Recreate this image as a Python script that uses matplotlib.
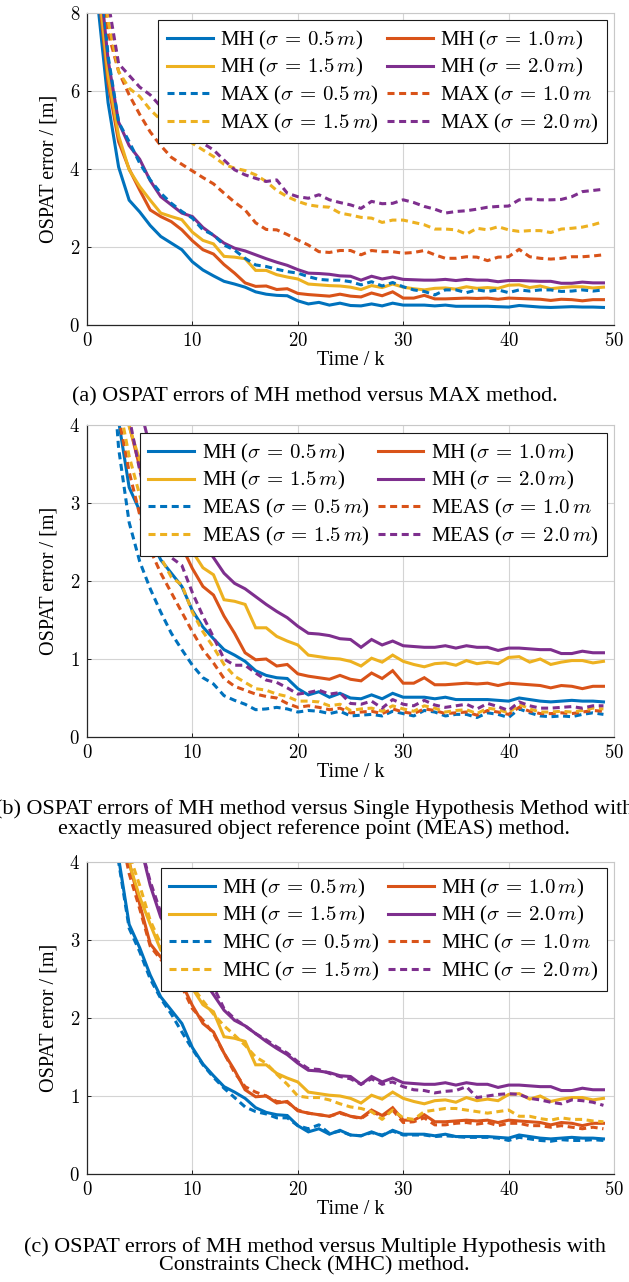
import matplotlib
matplotlib.use("Agg")
import matplotlib.pyplot as plt
from matplotlib.ticker import FuncFormatter, MultipleLocator

plt.rcParams['font.family'] = ['Liberation Serif', 'DejaVu Serif']
plt.rcParams['mathtext.fontset'] = 'cm'

k = list(range(1, 50))

mh_05 = [8.3, 5.7, 4.05, 3.2, 2.9, 2.55, 2.27, 2.1, 1.93, 1.62, 1.41, 1.26, 1.12, 1.05, 0.97, 0.85, 0.79, 0.76, 0.75, 0.62,
         0.54, 0.58, 0.51, 0.56, 0.50, 0.49, 0.54, 0.49, 0.56, 0.51, 0.51, 0.51, 0.49, 0.51, 0.48, 0.48, 0.48, 0.48, 0.47, 0.46,
         0.50, 0.48, 0.46, 0.45, 0.46, 0.47, 0.46, 0.46, 0.45]
mh_10 = [8.8, 6.2, 4.7, 4.0, 3.46, 2.95, 2.78, 2.65, 2.44, 2.16, 1.93, 1.82, 1.55, 1.33, 1.08, 0.99, 1.0, 0.91, 0.93, 0.81,
         0.78, 0.76, 0.74, 0.79, 0.74, 0.72, 0.82, 0.75, 0.85, 0.69, 0.69, 0.76, 0.67, 0.67, 0.68, 0.69, 0.68, 0.69, 0.66, 0.69,
         0.68, 0.67, 0.66, 0.63, 0.66, 0.65, 0.62, 0.65, 0.65]
mh_15 = [9.0, 6.4, 4.85, 3.98, 3.55, 3.2, 2.87, 2.78, 2.7, 2.38, 2.17, 2.08, 1.76, 1.74, 1.70, 1.40, 1.40, 1.29, 1.23, 1.18,
         1.05, 1.03, 1.01, 1.0, 0.97, 0.91, 1.01, 0.96, 1.05, 0.97, 0.93, 0.90, 0.94, 0.95, 0.92, 0.98, 0.94, 0.96, 0.94, 1.02,
         1.03, 0.96, 1.0, 0.93, 0.96, 0.98, 0.98, 0.95, 0.97]
mh_20 = [9.5, 6.8, 5.2, 4.6, 4.25, 3.7, 3.29, 3.08, 2.87, 2.78, 2.5, 2.3, 2.1, 1.97, 1.90, 1.80, 1.70, 1.61, 1.53, 1.42,
         1.33, 1.32, 1.30, 1.26, 1.25, 1.15, 1.25, 1.18, 1.23, 1.17, 1.16, 1.15, 1.15, 1.17, 1.14, 1.17, 1.15, 1.15, 1.11, 1.14,
         1.14, 1.13, 1.12, 1.12, 1.07, 1.07, 1.10, 1.08, 1.08]

max_05 = [10.0, 6.9, 5.2, 4.7, 4.15, 3.72, 3.38, 3.12, 2.91, 2.74, 2.44, 2.31, 2.05, 1.92, 1.71, 1.54, 1.50, 1.43, 1.37, 1.33,
          1.24, 1.17, 1.15, 1.15, 1.11, 1.03, 1.11, 1.0, 1.09, 0.98, 0.90, 0.86, 0.77, 0.90, 0.90, 0.83, 0.90, 0.86, 0.90, 0.83,
          0.90, 0.87, 0.90, 0.90, 0.86, 0.87, 0.90, 0.87, 0.90]
max_10 = [10.5, 7.5, 6.5, 5.9, 5.4, 4.95, 4.6, 4.3, 4.12, 3.95, 3.78, 3.62, 3.38, 3.15, 2.95, 2.62, 2.45, 2.44, 2.32, 2.18,
          2.05, 1.88, 1.86, 1.91, 1.91, 1.80, 1.91, 1.88, 1.88, 1.84, 1.86, 1.91, 1.80, 1.71, 1.71, 1.75, 1.74, 1.65, 1.74, 1.75,
          1.94, 1.75, 1.71, 1.69, 1.71, 1.75, 1.75, 1.77, 1.80]
max_15 = [11.0, 7.8, 6.5, 6.07, 5.86, 5.52, 5.26, 5.0, 4.83, 4.66, 4.49, 4.32, 4.12, 4.02, 3.96, 3.85, 3.68, 3.45, 3.29, 3.17,
          3.08, 3.04, 3.02, 2.87, 2.82, 2.76, 2.74, 2.63, 2.69, 2.69, 2.63, 2.57, 2.46, 2.46, 2.44, 2.33, 2.48, 2.44, 2.52, 2.44,
          2.40, 2.42, 2.42, 2.37, 2.46, 2.48, 2.51, 2.57, 2.65]
max_20 = [12.0, 8.3, 6.7, 6.4, 6.1, 5.9, 5.6, 5.35, 5.0, 4.83, 4.66, 4.49, 4.23, 3.98, 3.85, 3.76, 3.68, 3.72, 3.38, 3.29,
          3.25, 3.34, 3.21, 3.14, 3.08, 2.99, 3.17, 3.11, 3.12, 3.21, 3.14, 3.04, 2.97, 2.87, 2.91, 2.93, 2.97, 3.02, 3.04, 3.05,
          3.21, 3.23, 3.21, 3.21, 3.22, 3.29, 3.42, 3.45, 3.48]

meas_05 = [9.0, 5.5, 3.7, 2.75, 2.25, 1.9, 1.6, 1.33, 1.12, 0.92, 0.76, 0.68, 0.53, 0.47, 0.42, 0.35, 0.36, 0.38, 0.36, 0.32,
           0.34, 0.33, 0.30, 0.33, 0.27, 0.28, 0.29, 0.27, 0.33, 0.30, 0.27, 0.34, 0.32, 0.27, 0.29, 0.29, 0.25, 0.31, 0.29, 0.25,
           0.36, 0.31, 0.27, 0.26, 0.27, 0.26, 0.29, 0.31, 0.29]
meas_10 = [9.5, 6.0, 4.1, 3.4, 2.85, 2.4, 2.1, 1.85, 1.6, 1.35, 1.12, 0.95, 0.75, 0.65, 0.60, 0.55, 0.52, 0.50, 0.43, 0.38,
           0.40, 0.38, 0.35, 0.37, 0.31, 0.32, 0.33, 0.30, 0.36, 0.32, 0.30, 0.36, 0.34, 0.30, 0.31, 0.32, 0.28, 0.34, 0.32, 0.29,
           0.38, 0.33, 0.30, 0.30, 0.31, 0.30, 0.32, 0.34, 0.33]
meas_15 = [10.0, 6.3, 4.3, 3.6, 3.1, 2.65, 2.3, 2.05, 1.95, 1.6, 1.35, 1.15, 0.93, 0.78, 0.70, 0.62, 0.60, 0.55, 0.52, 0.46,
           0.46, 0.45, 0.40, 0.42, 0.34, 0.36, 0.37, 0.33, 0.40, 0.36, 0.33, 0.40, 0.37, 0.32, 0.34, 0.35, 0.30, 0.37, 0.35, 0.31,
           0.42, 0.36, 0.32, 0.32, 0.33, 0.32, 0.34, 0.37, 0.36]
meas_20 = [11.0, 7.0, 5.0, 4.1, 3.42, 2.85, 2.45, 2.3, 2.2, 1.85, 1.55, 1.28, 1.0, 0.92, 0.92, 0.82, 0.73, 0.70, 0.63, 0.55,
           0.57, 0.60, 0.55, 0.57, 0.43, 0.42, 0.46, 0.37, 0.48, 0.42, 0.40, 0.47, 0.41, 0.38, 0.40, 0.42, 0.36, 0.43, 0.39, 0.34,
           0.45, 0.40, 0.37, 0.37, 0.38, 0.39, 0.37, 0.40, 0.40]

mhc_05 = [8.2, 5.6, 4.0, 3.15, 2.85, 2.5, 2.25, 2.05, 1.82, 1.6, 1.4, 1.24, 1.1, 0.98, 0.86, 0.8, 0.77, 0.72, 0.72, 0.62,
          0.58, 0.63, 0.52, 0.55, 0.5, 0.49, 0.53, 0.5, 0.55, 0.5, 0.5, 0.5, 0.48, 0.49, 0.48, 0.47, 0.47, 0.47, 0.46, 0.43,
          0.47, 0.45, 0.43, 0.42, 0.44, 0.43, 0.43, 0.44, 0.43]
mhc_10 = [8.6, 6.0, 4.5, 3.85, 3.4, 2.92, 2.75, 2.6, 2.4, 2.12, 1.97, 1.8, 1.55, 1.3, 1.12, 1.05, 1.0, 0.93, 0.92, 0.82,
          0.78, 0.76, 0.74, 0.78, 0.74, 0.71, 0.8, 0.74, 0.82, 0.66, 0.67, 0.72, 0.63, 0.63, 0.65, 0.66, 0.64, 0.66, 0.62, 0.65,
          0.65, 0.62, 0.62, 0.6, 0.62, 0.6, 0.58, 0.6, 0.58]
mhc_15 = [9.1, 6.6, 5.0, 4.1, 3.7, 3.25, 2.95, 2.7, 2.55, 2.4, 2.22, 2.05, 1.9, 1.78, 1.65, 1.5, 1.42, 1.28, 1.15, 1.0,
          0.98, 0.98, 0.95, 0.9, 0.86, 0.84, 0.8, 0.7, 0.82, 0.72, 0.7, 0.8, 0.82, 0.84, 0.84, 0.82, 0.8, 0.78, 0.8, 0.82,
          0.74, 0.74, 0.71, 0.69, 0.72, 0.7, 0.7, 0.68, 0.67]
mhc_20 = [9.6, 7.0, 5.3, 4.6, 4.25, 3.75, 3.35, 3.1, 2.9, 2.8, 2.55, 2.4, 2.12, 1.99, 1.9, 1.8, 1.72, 1.63, 1.55, 1.44,
          1.35, 1.34, 1.29, 1.25, 1.22, 1.15, 1.22, 1.15, 1.18, 1.12, 1.08, 1.07, 1.04, 1.06, 1.07, 1.12, 0.98, 1.0, 1.02, 1.03,
          1.02, 0.97, 0.95, 0.92, 0.9, 0.95, 0.94, 0.92, 0.88]

sigmas = ['0.5', '1.0', '1.5', '2.0']
colors = ['#0072BD', '#D95319', '#EDB120', '#7E2F8E']
mh_all = [mh_05, mh_10, mh_15, mh_20]

panels = [
    dict(name='MAX', data=[max_05, max_10, max_15, max_20], ymax=8, ystep=2,
         caption='(a) OSPAT errors of MH method versus MAX method.'),
    dict(name='MEAS', data=[meas_05, meas_10, meas_15, meas_20], ymax=4, ystep=1,
         caption='(b) OSPAT errors of MH method versus Single Hypothesis Method with\nexactly measured object reference point (MEAS) method.'),
    dict(name='MHC', data=[mhc_05, mhc_10, mhc_15, mhc_20], ymax=4, ystep=1,
         caption='(c) OSPAT errors of MH method versus Multiple Hypothesis with\nConstraints Check (MHC) method.'),
]

W, H = 629, 1282
fig = plt.figure(figsize=(W / 100, H / 100), dpi=100)

ax_left, ax_right = 87, 614
ax_tops = [13, 425, 862]
ax_h = 312
leg_tops = [20, 433, 868]
cap_y = [397, 819, 1256]

math_fmt = FuncFormatter(lambda v, p: r'$%g$' % v)

for i, pnl in enumerate(panels):
    top = ax_tops[i]
    ax = fig.add_axes([ax_left / W, 1 - (top + ax_h) / H, (ax_right - ax_left) / W, ax_h / H])
    ax.set_xlim(0, 50)
    ax.set_ylim(0, pnl['ymax'])
    ax.xaxis.set_major_locator(MultipleLocator(10))
    ax.yaxis.set_major_locator(MultipleLocator(pnl['ystep']))
    ax.xaxis.set_major_formatter(math_fmt)
    ax.yaxis.set_major_formatter(math_fmt)
    ax.grid(True, color='#d4d4d4', linewidth=0.8)
    ax.set_axisbelow(True)
    ax.tick_params(direction='in', length=3, width=0.6, labelsize=13.5, pad=5,
                   top=False, right=False)
    for s in ['top', 'right']:
        ax.spines[s].set_color('#c8c8c8')
        ax.spines[s].set_linewidth(0.8)
    for s in ['left', 'bottom']:
        ax.spines[s].set_color('#262626')
        ax.spines[s].set_linewidth(0.9)

    handles = {}
    for j in range(4):
        h, = ax.plot(k, mh_all[j], color=colors[j], lw=2.2, solid_joinstyle='miter',
                     label=r'MH ($\sigma\,=\,%s\,m$)' % sigmas[j])
        handles[('MH', j)] = h
    for j in range(4):
        close = ')' if j != 1 else ''
        h, = ax.plot(k, pnl['data'][j], color=colors[j], lw=2.2, dashes=(2.3, 1.5),
                     label=r'%s ($\sigma\,=\,%s\,m$' % (pnl['name'], sigmas[j]) + close)
        handles[('D', j)] = h

    order = [('MH', 0), ('MH', 2), ('D', 0), ('D', 2), ('MH', 1), ('MH', 3), ('D', 1), ('D', 3)]
    hs = [handles[o] for o in order]
    lx = (607 - ax_left) / (ax_right - ax_left)
    ly = (top + ax_h - leg_tops[i]) / ax_h
    leg = ax.legend(hs, [h.get_label() for h in hs], ncol=2, loc='upper right',
                    bbox_to_anchor=(lx, ly), borderaxespad=0, fontsize=15,
                    frameon=True, fancybox=False, edgecolor='#1a1a1a', framealpha=1,
                    handlelength=2.2, handletextpad=0.35, columnspacing=0.4,
                    labelspacing=0.22, borderpad=0.42)
    leg.get_frame().set_linewidth(0.8)

    ax.set_xlabel('Time / k', fontsize=14.5, labelpad=1)
    ax.set_ylabel('OSPAT error / [m]', fontsize=14.5, labelpad=8)

    fig.text(0.5, 1 - cap_y[i] / H, pnl['caption'], ha='center', va='center',
             fontsize=15.9, linespacing=0.95)

fig.savefig('out.png', dpi=100)
